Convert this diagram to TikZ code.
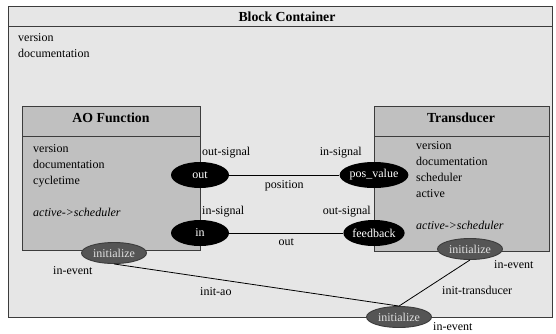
\documentclass[tikz,border=0pt]{standalone}
\usepackage{fontspec}
\setmainfont{Liberation Serif}
\usetikzlibrary{shapes.geometric}
\definecolor{contfill}{HTML}{E6E6E6}
\definecolor{boxfill}{HTML}{C0C0C0}
\definecolor{edgegray}{HTML}{3C3C3C}
\definecolor{evfill}{HTML}{555555}

\begin{document}
\begin{tikzpicture}[x=1pt, y=-1pt, font=\fontsize{12}{16}\selectfont,
    port/.style={ellipse, fill=black, text=white, minimum width=58pt, minimum height=26pt, inner sep=0pt},
    event/.style={ellipse, draw=edgegray, line width=0.9pt, fill=evfill, text=white!88!black, minimum width=65pt, minimum height=21pt, inner sep=0pt},
    frame/.style={draw=edgegray, line width=1pt},
    title/.style={font=\fontsize{13.8}{16}\selectfont\bfseries},
    attrs/.style={align=left, anchor=north west, inner sep=0pt},
    lbl/.style={inner sep=0pt},
    link/.style={line width=0.8pt}]
        \useasboundingbox (0,0) rectangle (556,333);
        % container
        \draw[frame, fill=contfill] (8,6) rectangle (552,317);
        \draw[frame] (8,26) -- (552,26);
        \node[title] (bctitle) at (287,17) {Block Container};
        \node[attrs] (bcattrs) at (18,33) {version\\documentation};
        % AO function block
        \draw[frame, fill=boxfill] (22,106) rectangle (200,136);
        \draw[frame, fill=boxfill] (22,136) rectangle (200,250);
        \node[title] (aotitle) at (111,118) {AO Function};
        \node[attrs] (aoattrs) at (33,144) {version\\documentation\\cycletime\\[16pt]\textit{active->scheduler}};
        % transducer block
        \draw[frame, fill=boxfill] (374,106) rectangle (549,136);
        \draw[frame, fill=boxfill] (374,136) rectangle (549,251);
        \node[title] (trtitle) at (461,118) {Transducer};
        \node[attrs] (trattrs) at (416,141) {version\\documentation\\scheduler\\active\\[16pt]\textit{active->scheduler}};
        % ports
        \node[port] (out) at (200,175) {out};
        \node[port] (in) at (200,233) {in};
        \node[port, minimum width=66pt] (posval) at (374,175) {pos\_value};
        \node[port, minimum width=60pt] (feedback) at (374,233) {feedback};
        \node[lbl, anchor=west] at (202,153) {out-signal};
        \node[lbl, anchor=west] at (202,212) {in-signal};
        \node[lbl, anchor=east] at (362,153) {in-signal};
        \node[lbl, anchor=east] at (371,212) {out-signal};
        % events
        \node[event] (aoinit) at (114,253) {initialize};
        \node[event] (trinit) at (470,249) {initialize};
        \node[event] (bcinit) at (399,317) {initialize};
        \node[lbl, anchor=west] at (53,271) {in-event};
        \node[lbl, anchor=west] at (494,265) {in-event};
        \node[lbl, anchor=west] at (433,327) {in-event};
        % connections
        \draw[link] (out) -- node[lbl, below=5pt] {position} (posval);
        \draw[link] (in) -- node[lbl, below=5pt] {out} (feedback);
        \draw[link] (aoinit.south) -- (bcinit.north);
        \draw[link] (trinit.south) -- (bcinit.north);
        \node[lbl, anchor=west] at (200,292) {init-ao};
        \node[lbl, anchor=west] at (442,290) {init-transducer};
\end{tikzpicture}
\end{document}
